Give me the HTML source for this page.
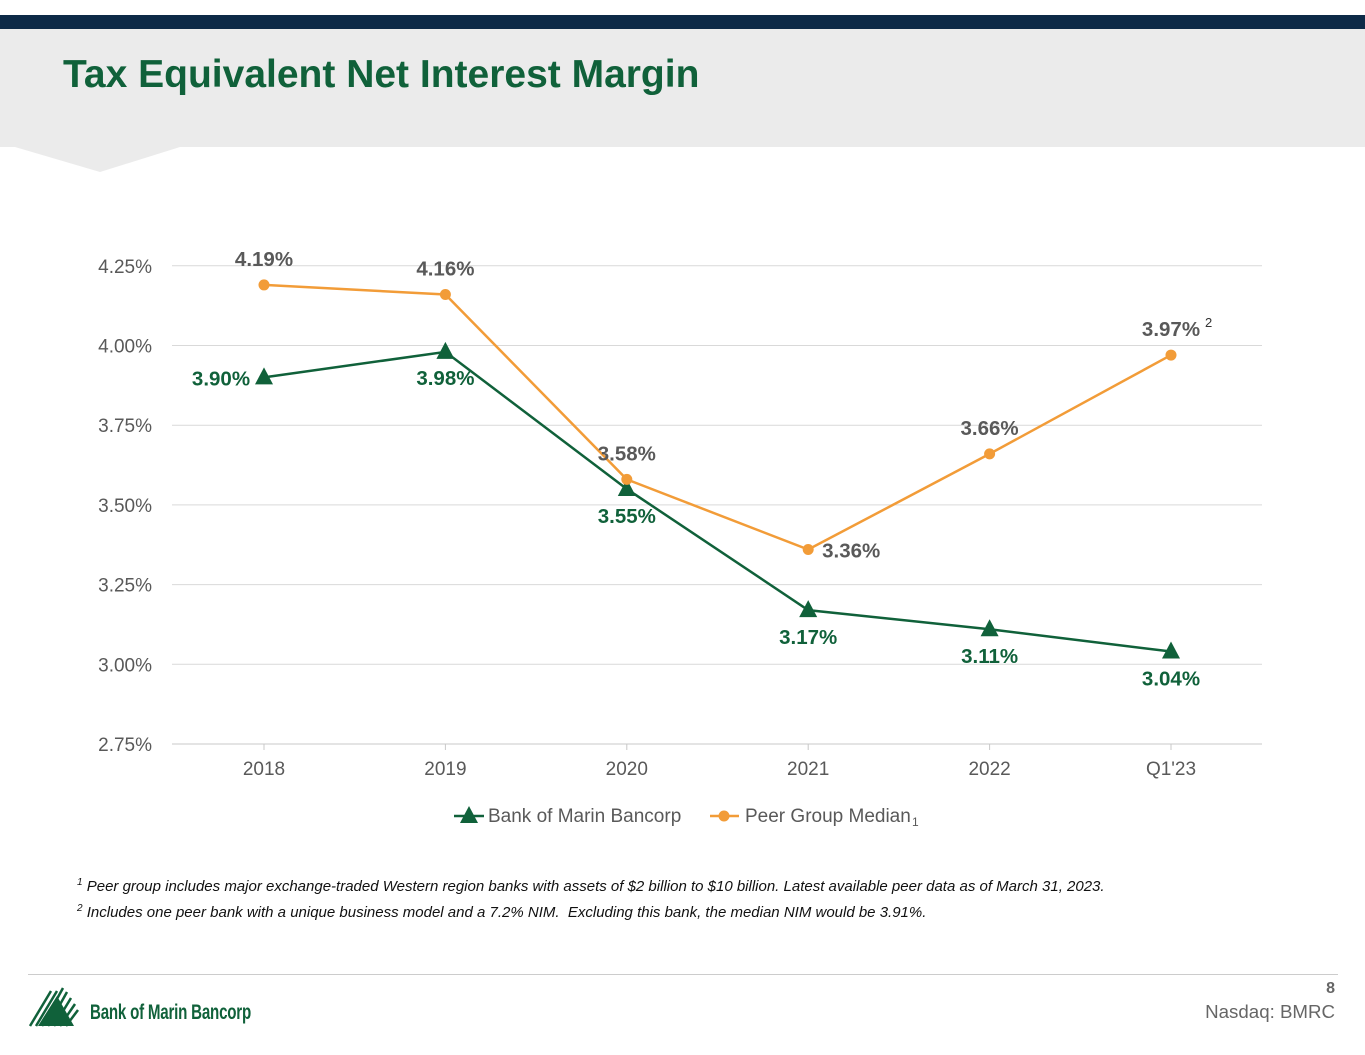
<!DOCTYPE html>
<html><head><meta charset="utf-8">
<style>
body{margin:0;width:1365px;height:1055px;background:#fff;position:relative;overflow:hidden;font-family:"Liberation Sans",sans-serif}
.abs{position:absolute}
</style></head>
<body>
<div class="abs" style="left:0;top:15px;width:1365px;height:14px;background:#0d2a47"></div>
<svg class="abs" style="left:0;top:29px" width="1365" height="145">
<polygon points="0,0 1365,0 1365,118 180,118 100,143 15,118 0,118" fill="#ebebeb"/>
</svg>
<div class="abs" style="left:63px;top:53px;font-size:39px;font-weight:bold;color:#10613a">Tax Equivalent Net Interest Margin</div>

<svg class="abs" id="chart" style="left:0;top:0" width="1365" height="860"></svg>

<div class="abs" style="left:77px;top:877px;font-size:15px;font-style:italic;color:#111"><sup style="font-size:10px">1</sup> Peer group includes major exchange-traded Western region banks with assets of $2 billion to $10 billion. Latest available peer data as of March 31, 2023.</div>
<div class="abs" style="left:77px;top:903px;font-size:15px;font-style:italic;color:#111"><sup style="font-size:10px">2</sup> Includes one peer bank with a unique business model and a 7.2% NIM.&nbsp; Excluding this bank, the median NIM would be 3.91%.</div>

<div class="abs" style="left:28px;top:974px;width:1310px;height:1px;background:#ccc"></div>
<svg class="abs" style="left:28px;top:986px" width="58" height="42">
<g stroke="#10613a" stroke-width="2.5">
<line x1="2" y1="40" x2="23" y2="5"/><line x1="8" y1="40" x2="29" y2="5"/><line x1="14" y1="40" x2="35" y2="2"/><line x1="20" y1="40" x2="39" y2="6"/><line x1="26" y1="40" x2="43" y2="12"/><line x1="32" y1="40" x2="47" y2="18"/><line x1="38" y1="40" x2="50" y2="24"/>
</g><polygon points="10,40 29,10 46,40" fill="#10613a"/>
</svg>
<div class="abs" style="left:90px;top:1001px;font-size:21px;font-weight:bold;color:#10613a;transform:scaleX(0.72);transform-origin:left;letter-spacing:-0.3px">Bank of Marin Bancorp</div>
<div class="abs" style="right:30px;top:980px;font-size:16px;font-weight:bold;color:#666">8</div>
<div class="abs" style="right:30px;top:1001px;font-size:18.7px;color:#666">Nasdaq: BMRC</div>

<script>
const categories=["2018","2019","2020","2021","2022","Q1'23"];
const bankValues=[3.90,3.98,3.55,3.17,3.11,3.04];
const peerValues=[4.19,4.16,3.58,3.36,3.66,3.97];
const yTicks=[2.75,3.00,3.25,3.50,3.75,4.00,4.25];
const yTickLabels=["2.75%","3.00%","3.25%","3.50%","3.75%","4.00%","4.25%"];
const bankLabelOffsets=[[-43,8],[0,33],[0,34],[0,34],[0,34],[0,34]];
const peerLabelOffsets=[[0,-19],[0,-19],[0,-19],[43,8],[0,-19],[0,-19]];

const svg=document.getElementById('chart');
const NS='http://www.w3.org/2000/svg';
const x=i=>264+i*181.4;
const y=v=>744-(v-2.75)/0.25*79.7;
function el(t,a,parent){const e=document.createElementNS(NS,t);for(const k in a)e.setAttribute(k,a[k]);(parent||svg).appendChild(e);return e;}
yTicks.forEach((t,i)=>{
  const g=el('line',{x1:172,x2:1262,y1:y(t),y2:y(t),stroke:i==0?'#c8c8c8':'#d9d9d9','stroke-width':1});
  
  
  const l=el('text',{x:152,y:y(t)+7,'text-anchor':'end','font-size':19,fill:'#595959'});
  l.textContent=yTickLabels[i];
  
  
});
categories.forEach((c,i)=>{
  const tk=el('line',{x1:x(i),x2:x(i),y1:744,y2:750,stroke:'#c8c8c8'});
  
  
  const l=el('text',{x:x(i),y:775,'text-anchor':'middle','font-size':19,fill:'#595959'});
  l.textContent=c;
  
  
});
const bankLine=el('polyline',{points:bankValues.map((v,i)=>x(i)+','+y(v)).join(' '),fill:'none',stroke:'#10613a','stroke-width':2.5});


const peerLine=el('polyline',{points:peerValues.map((v,i)=>x(i)+','+y(v)).join(' '),fill:'none',stroke:'#f29c38','stroke-width':2.5});


bankValues.forEach((v,i)=>{
  const cx=x(i),cy=y(v);
  const m=el('polygon',{points:`${cx},${cy-10} ${cx+9},${cy+7} ${cx-9},${cy+7}`,fill:'#10613a'});
  
  
  const t=el('text',{x:cx+bankLabelOffsets[i][0],y:cy+bankLabelOffsets[i][1],'text-anchor':'middle','font-size':20.5,'font-weight':'bold',fill:'#10613a'});
  t.textContent=v.toFixed(2)+'%';
  
  
});
peerValues.forEach((v,i)=>{
  const cx=x(i),cy=y(v);
  const m=el('circle',{cx:cx,cy:cy,r:5.5,fill:'#f29c38'});
  
  
  const t=el('text',{x:cx+peerLabelOffsets[i][0],y:cy+peerLabelOffsets[i][1],'text-anchor':'middle','font-size':20.5,'font-weight':'bold',fill:'#595959'});
  t.textContent=v.toFixed(2)+'%';
  
  
  if(i==categories.length-1){
    const s=el('text',{x:cx+34,y:cy-28,'font-size':13,fill:'#333'});
    s.textContent='2';
    
    
  }
});
const lg=el('g',{});


el('line',{x1:454,x2:484,y1:816,y2:816,stroke:'#10613a','stroke-width':2.5},lg);
el('polygon',{points:'469,806 478,823 460,823',fill:'#10613a'},lg);
const t1=el('text',{x:488,y:822,'font-size':19,fill:'#595959'},lg);t1.textContent='Bank of Marin Bancorp';


el('line',{x1:710,x2:739,y1:816,y2:816,stroke:'#f29c38','stroke-width':2.5},lg);
el('circle',{cx:724,cy:816,r:5.5,fill:'#f29c38'},lg);
const t2=el('text',{x:745,y:822,'font-size':19,fill:'#595959'},lg);t2.textContent='Peer Group Median';


const t3=el('text',{x:912,y:826,'font-size':12,fill:'#595959'},lg);t3.textContent='1';


</script>
</body></html>
